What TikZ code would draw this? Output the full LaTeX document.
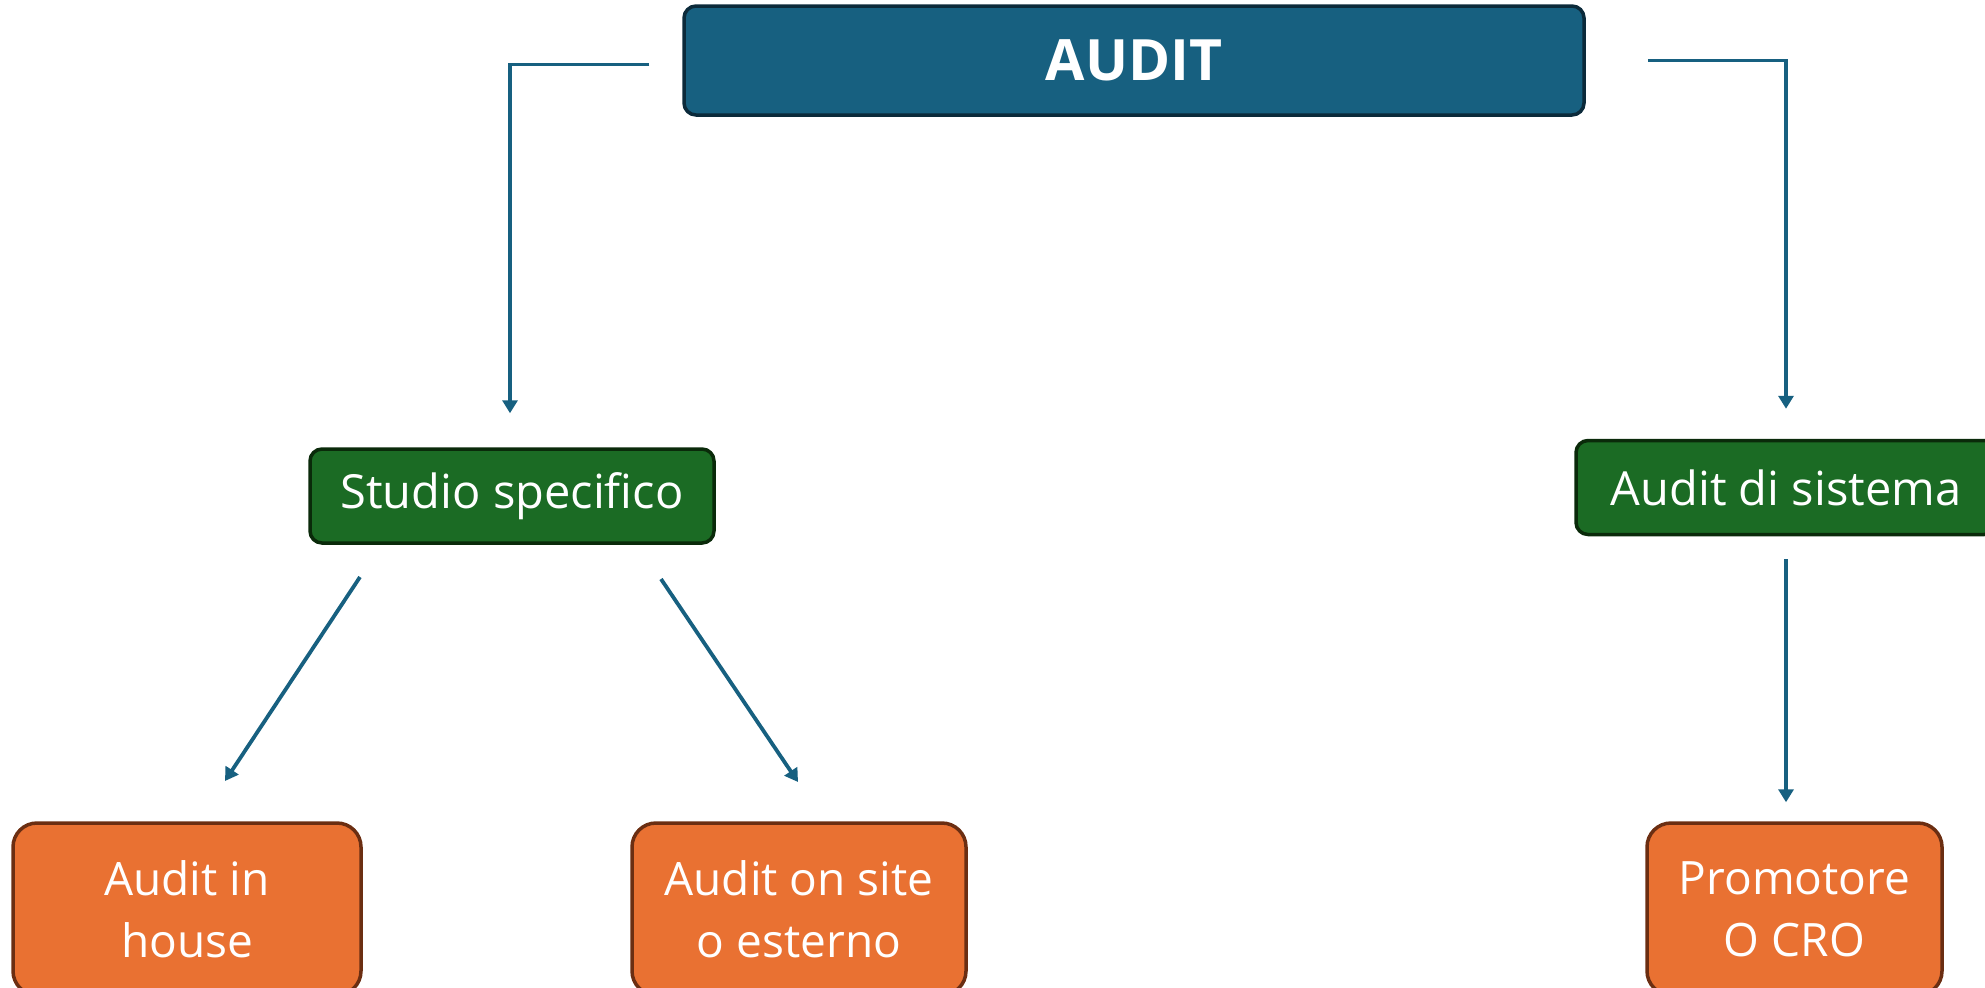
\documentclass[tikz,border=0pt]{standalone}
\usepackage{fontspec}
\setmainfont{Open Sans}
\usetikzlibrary{arrows.meta}
\definecolor{auditblue}{HTML}{176080}
\definecolor{auditborder}{HTML}{0B2A3A}
\definecolor{greenfill}{HTML}{1B6B24}
\definecolor{greenborder}{HTML}{0A2A0A}
\definecolor{orangefill}{HTML}{E97132}
\definecolor{orangeborder}{HTML}{6B2E12}
\definecolor{linkcol}{HTML}{176080}
\tikzset{
  topbox/.style={draw=auditborder, fill=auditblue, line width=1.75pt, rounded corners=6pt,
    text=white, font={\fontsize{28.5}{34}\selectfont\bfseries}, inner sep=0pt},
  midbox/.style={draw=greenborder, fill=greenfill, line width=1.75pt, rounded corners=6pt,
    text=white, font={\fontsize{23.5}{29}\selectfont}, inner sep=0pt},
  lowbox/.style={draw=orangeborder, fill=orangefill, line width=1.75pt, rounded corners=12pt,
    text=white, font={\fontsize{23}{31}\selectfont}, inner sep=0pt, align=center},
  arr/.style={draw=linkcol, line width=1.9pt, -{Triangle[width=7.5pt,length=6.5pt]}},
}
\begin{document}
\begin{tikzpicture}[x=0.5pt,y=-0.5pt]
\useasboundingbox (0,0) rectangle (1985,987);
\clip (0,0) rectangle (1985,987);

\node[topbox, minimum width=450pt, minimum height=54.5pt] (audit) at (1134,60.5) {AUDIT};
\node[midbox, minimum width=202pt, minimum height=47pt] (studio) at (512,496) {Studio specifico};
\node[midbox, minimum width=210pt, minimum height=47pt] (sistema) at (1786,487.5) {Audit di sistema};
\node[lowbox, minimum width=174pt, minimum height=86pt] (inhouse) at (187,909) {Audit in\\house};
\node[lowbox, minimum width=167pt, minimum height=86pt] (onsite) at (799,909) {Audit on site\\o esterno};
\node[lowbox, minimum width=147.5pt, minimum height=86pt] (promo) at (1794.5,909) {Promotore\\O CRO};

\draw[arr, shorten <=16.5pt, shorten >=17pt] ([yshift=-2pt]audit.west) -| ([xshift=-1pt]studio.north);
\draw[arr, shorten <=31pt, shorten >=15pt] (audit.east) -| (sistema.north);

\coordinate (s1a) at (360,577);
\coordinate (s1b) at (225,781);
\coordinate (s2a) at (661,579);
\coordinate (s2b) at (798,782);
\draw[arr] (s1a) -- (s1b);
\draw[arr] (s2a) -- (s2b);
\draw[arr, shorten <=11.5pt, shorten >=9.5pt] (sistema.south) -- (sistema.south |- promo.north);
\end{tikzpicture}
\end{document}
